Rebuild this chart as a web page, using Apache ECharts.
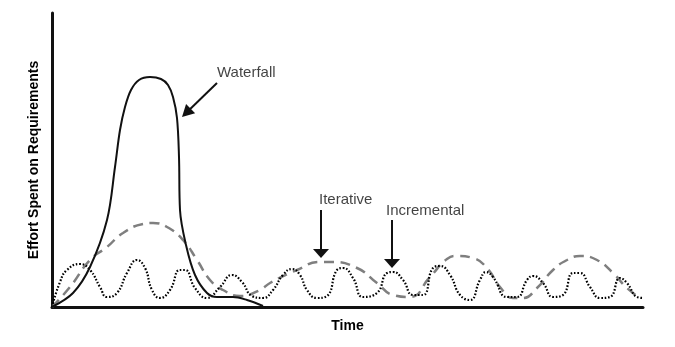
<!DOCTYPE html>
<html><head><meta charset="utf-8">
<script src="https://cdn.jsdelivr.net/npm/echarts@6/dist/echarts.min.js"></script>
<style>html,body{margin:0;padding:0;background:#fff}#c{width:675px;height:347px}</style>
</head><body><div id="c"></div>
<script>
// Time (x) and effort (y) values, arbitrary units
const waterfall = [[0,0],[21,14],[38,40],[55,87],[63,140],[68,177],[73,200],[79,217],[87,227],[98,230],[109,228],[116,222],[121,210],[125,189],[127,150],[128,97],[134,62],[143,32],[155,14],[165,10],[181,10],[195,7],[211,1]];
const iterative = [[0,0],[18,20],[38,47],[55,60],[71,74],[91,83],[101,84],[115,80],[131,67],[145,47],[158,27],[171,17],[188,11],[208,17],[218,24],[245,37],[268,45],[278,45],[305,39],[325,24],[341,12],[358,10],[378,30],[395,48],[405,51],[421,49],[435,39],[448,20],[461,9],[471,9],[485,19],[501,37],[515,47],[528,51],[545,47],[561,34],[575,19],[588,9]];
const incremental = [[0,0],[8,25],[15,37],[28,43],[38,37],[48,20],[55,10],[65,14],[75,34],[85,47],[93,39],[100,17],[108,9],[118,17],[128,37],[133,37],[143,19],[155,9],[168,20],[180,32],[190,25],[200,11],[211,9],[221,17],[231,32],[240,38],[248,32],[255,17],[265,9],[275,11],[285,37],[291,39],[301,29],[311,10],[325,14],[335,34],[341,35],[351,27],[361,12],[371,12],[381,39],[388,41],[398,32],[408,12],[418,7],[428,27],[434,35],[441,30],[455,10],[465,10],[475,27],[481,31],[491,24],[501,10],[511,12],[521,34],[528,34],[538,20],[548,9],[558,10],[568,29],[575,24],[585,10],[591,9]];
const labelNames = ['Waterfall','Iterative','Incremental'];
const labelPoints = [[165,234],[267,107],[334,96]];
const arrowStarts = [[165,224],[269,97],[340,87]];
const arrowEnds = [[134.3,194.2],[269,53.5],[340,43.5]];
const xMax = 591, yMax = 294;

const chart = echarts.init(document.getElementById('c'));
const font = '"Liberation Sans", Arial, sans-serif';
chart.setOption({
  animation: false,
  grid: {left: 52, right: 32, top: 13, bottom: 40},
  xAxis: {type: 'value', min: 0, max: xMax, name: 'Time', nameLocation: 'middle', nameGap: 12,
    nameTextStyle: {fontFamily: font, fontWeight: 'bold', fontSize: 14, color: '#000'},
    axisLine: {show: true, lineStyle: {color: '#111', width: 3}}, axisTick: {show: false}, axisLabel: {show: false}, splitLine: {show: false}},
  yAxis: {type: 'value', min: 0, max: yMax, name: 'Effort Spent on Requirements', nameLocation: 'middle', nameGap: 11,
    nameTextStyle: {fontFamily: font, fontWeight: 'bold', fontSize: 14, color: '#000'},
    axisLine: {show: true, lineStyle: {color: '#111', width: 3}}, axisTick: {show: false}, axisLabel: {show: false}, splitLine: {show: false}},
  series: [
    {type: 'line', data: iterative, smooth: 0.5, showSymbol: false, lineStyle: {color: '#7f7f7f', width: 2.5, type: [10, 6.5]}, z: 2},
    {type: 'line', data: incremental, smooth: 0.5, showSymbol: false, lineStyle: {color: '#000', width: 2.2, type: [1.6, 1.8]}, z: 3},
    {type: 'line', data: waterfall, smooth: 0.35, showSymbol: false, lineStyle: {color: '#111', width: 2}, z: 4},
    {type: 'scatter', symbolSize: 0, z: 5,
      data: labelNames.map((n, i) => ({name: n, value: labelPoints[i]})),
      label: {show: true, position: 'right', distance: 0, formatter: p => p.name, fontFamily: font, fontSize: 15, color: '#111'},
      markLine: {silent: true, symbol: ['none', 'triangle'], symbolSize: [16, 9], label: {show: false},
        lineStyle: {color: '#111', width: 2, type: 'solid'},
        data: arrowStarts.map((s, i) => [{coord: s}, {coord: arrowEnds[i], symbolSize: i === 0 ? [13, 12] : [16, 9]}])}
    }
  ]
});
</script></body></html>
